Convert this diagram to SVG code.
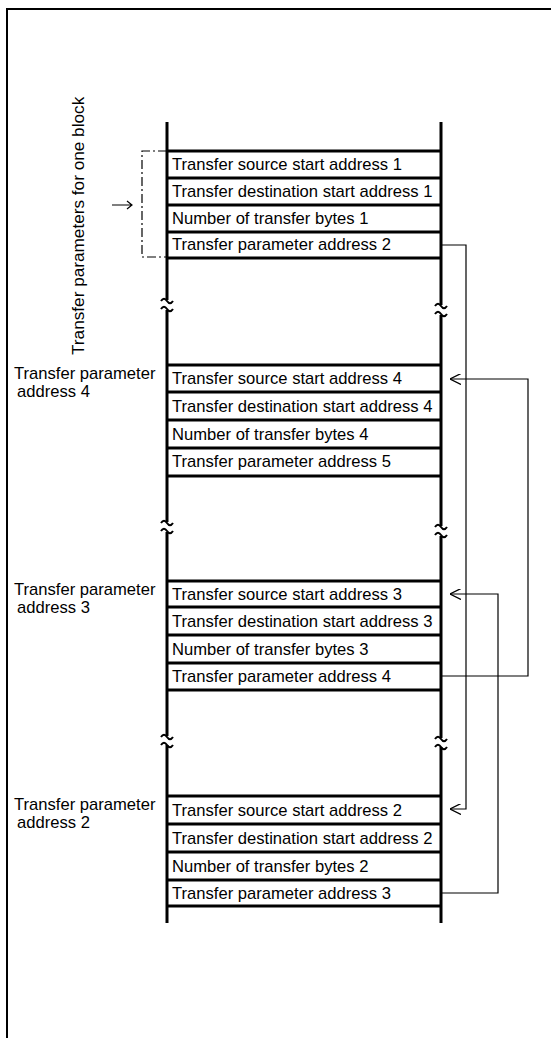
<svg xmlns="http://www.w3.org/2000/svg" width="551" height="1038" viewBox="0 0 551 1038">
<style>
text{font-family:"Liberation Sans",Arial,sans-serif;font-size:16.6px;fill:#000}
.col{stroke:#000;stroke-width:3;fill:none}
.row{stroke:#000;stroke-width:3}
.frame{stroke:#000;stroke-width:2;fill:none}
.conn{stroke:#000;stroke-width:1.2;fill:none}
.brk{stroke:#000;stroke-width:2;fill:none}
.dash{stroke:#000;stroke-width:1.2;fill:none;stroke-dasharray:9 3 2 3}
</style>
<defs>
<marker id="ah" viewBox="0 0 10 10" refX="10" refY="5" markerWidth="11" markerHeight="11" markerUnits="userSpaceOnUse" orient="auto">
<path d="M0,0 L10,5 L0,10" fill="none" stroke="#000" stroke-width="1.2"/>
</marker>
<path id="wave" d="M-6,0 c2,-3 4,-3 6,0 s4,3 6,0"/>
</defs>
<rect width="551" height="1038" fill="#fff"/>
<path class="frame" d="M7,1038 V9 H551"/>

<g id="columns">
<path class="col" d="M167,122 V300 M167,310 V522 M167,532 V736 M167,745 V923"/>
<path class="col" d="M441,122 V305 M441,315 V526 M441,536 V738 M441,747 V923"/>
<g class="brk">
<use href="#wave" x="167" y="301"/><use href="#wave" x="167" y="309"/>
<use href="#wave" x="441" y="306"/><use href="#wave" x="441" y="314"/>
<use href="#wave" x="167" y="523"/><use href="#wave" x="167" y="531"/>
<use href="#wave" x="441" y="527"/><use href="#wave" x="441" y="535"/>
<use href="#wave" x="167" y="737"/><use href="#wave" x="167" y="745"/>
<use href="#wave" x="441" y="739"/><use href="#wave" x="441" y="747"/>
</g>
</g>

<g id="block1">
<path class="row" d="M167,151 H441 M167,178 H441 M167,205 H441 M167,232 H441 M167,258 H441"/>
<text x="172" y="169.5">Transfer source start address 1</text>
<text x="172" y="196.5">Transfer destination start address 1</text>
<text x="172" y="223.5">Number of transfer bytes 1</text>
<text x="172" y="250">Transfer parameter address 2</text>
</g>

<g id="block1-annotation">
<path class="dash" d="M167,151 H142 V257 H167"/>
<path d="M112,205 H132 M127,201 L132,205 L127,209" fill="none" stroke="#000" stroke-width="1.2"/>
<text transform="translate(84,355) rotate(-90)" style="font-size:17.2px">Transfer parameters for one block</text>
</g>

<g id="block4addr">
<path class="row" d="M167,365 H441 M167,392 H441 M167,420 H441 M167,448 H441 M167,476 H441"/>
<text x="172" y="384">Transfer source start address 4</text>
<text x="172" y="411.5">Transfer destination start address 4</text>
<text x="172" y="439.5">Number of transfer bytes 4</text>
<text x="172" y="467">Transfer parameter address 5</text>
<text x="14" y="379">Transfer parameter</text>
<text x="17" y="396.5">address 4</text>
</g>

<g id="block3addr">
<path class="row" d="M167,581 H441 M167,607 H441 M167,635 H441 M167,663 H441 M167,690 H441"/>
<text x="172" y="600">Transfer source start address 3</text>
<text x="172" y="626.5">Transfer destination start address 3</text>
<text x="172" y="654.5">Number of transfer bytes 3</text>
<text x="172" y="682">Transfer parameter address 4</text>
<text x="14" y="595">Transfer parameter</text>
<text x="17" y="612.5">address 3</text>
</g>

<g id="block2addr">
<path class="row" d="M167,796 H441 M167,824 H441 M167,852 H441 M167,880 H441 M167,906 H441"/>
<text x="172" y="815.5">Transfer source start address 2</text>
<text x="172" y="843.5">Transfer destination start address 2</text>
<text x="172" y="871.5">Number of transfer bytes 2</text>
<text x="172" y="898.5">Transfer parameter address 3</text>
<text x="14" y="810">Transfer parameter</text>
<text x="17" y="827.5">address 2</text>
</g>

<g id="connectors">
<path class="conn" d="M441,245 H466 V809 H450" marker-end="url(#ah)"/>
<path class="conn" d="M441,676 H528 V379 H450" marker-end="url(#ah)"/>
<path class="conn" d="M441,893 H498 V594 H450" marker-end="url(#ah)"/>
</g>
</svg>
